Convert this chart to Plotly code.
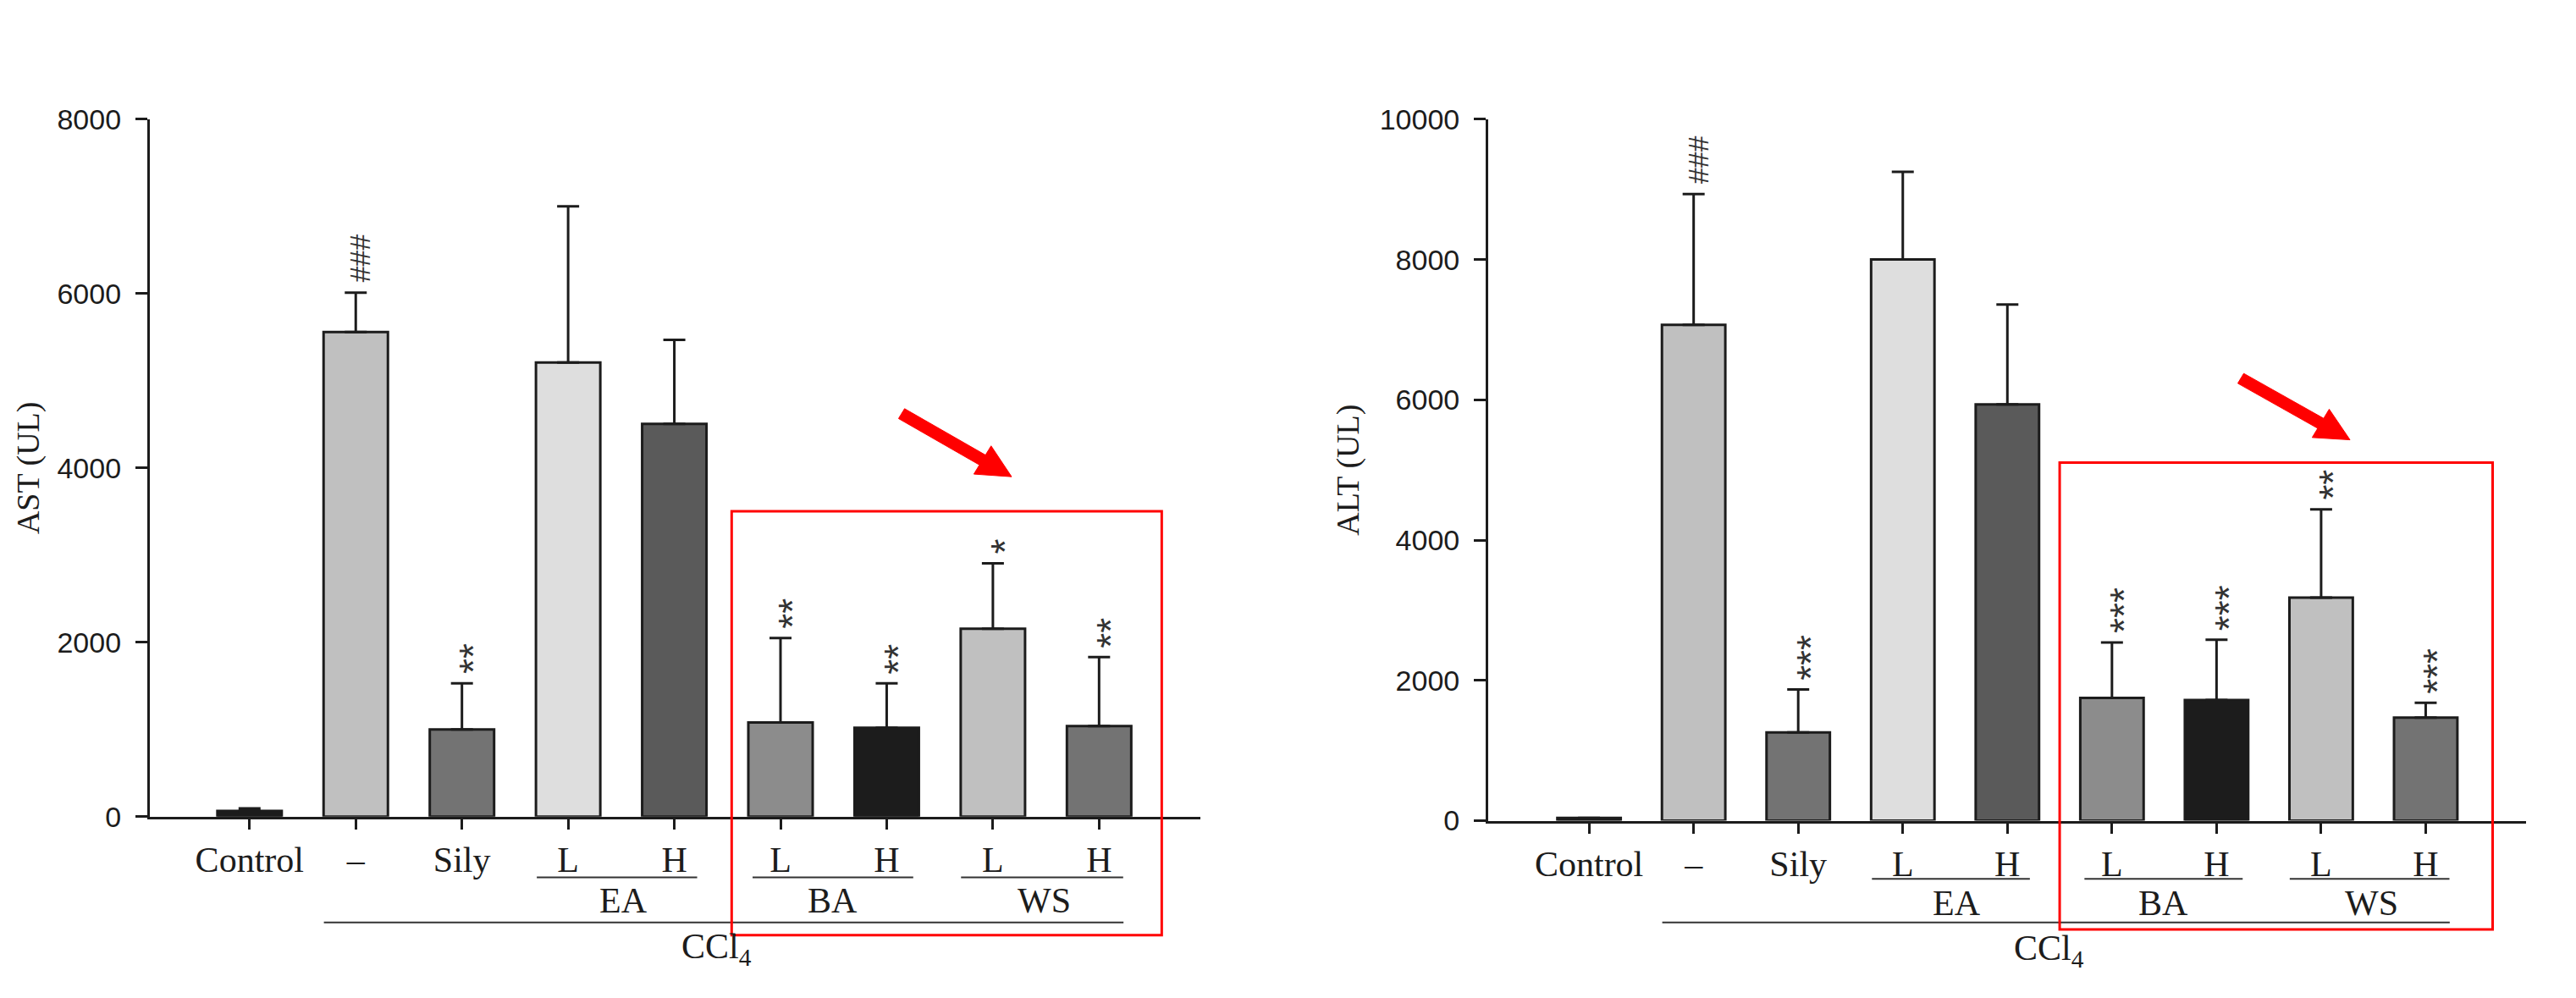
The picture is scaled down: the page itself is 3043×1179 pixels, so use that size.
import math
import plotly.graph_objects as go

# groups along the x axis (same order in both panels)
labels = ["Control", "–", "Sily", "L", "H", "L", "H", "L", "H"]
colors = ["#1c1c1c", "#c0c0c0", "#737373", "#dedede", "#5a5a5a",
          "#8c8c8c", "#1c1c1c", "#c0c0c0", "#737373"]

# AST (UL), mean and upper SD
ast = [65, 5560, 1000, 5210, 4505, 1080, 1020, 2155, 1040]
ast_sd = [30, 450, 530, 1790, 965, 970, 510, 750, 790]
ast_sig = ["", "###", "**", "", "", "**", "**", "*", "**"]

# ALT (UL), right panel
alt = [40, 7070, 1260, 8000, 5935, 1750, 1720, 3180, 1470]
alt_sd = [0, 1865, 610, 1250, 1425, 790, 860, 1260, 210]
alt_sig = ["", "###", "***", "", "", "***", "***", "**", "***"]

# sub-group brackets: name, line start, line end, label position
groups = [("EA", 2.705, 4.215, 3.52), ("BA", 4.737, 6.25, 5.49), ("WS", 6.70, 8.227, 7.48)]

serif = "Liberation Serif"
sans = "Liberation Sans"
ink = "#1c1c1c"
W, H = 3043, 1179
pos = list(range(len(labels)))

fig = go.Figure()

for vals, sd, xa, ya in [(ast, ast_sd, "x", "y"), (alt, alt_sd, "x2", "y2")]:
    fig.add_trace(go.Bar(
        x=pos, y=vals, width=0.606, xaxis=xa, yaxis=ya,
        marker=dict(color=colors, line=dict(color=ink, width=3)),
        error_y=dict(type="data", array=sd, arrayminus=[0] * len(sd),
                     symmetric=False, color=ink, thickness=3, width=13),
        showlegend=False, hoverinfo="skip"))


def axis_pair(n, xdom, ydom, xrange, ymax, title, standoff):
    sfx = "" if n == 1 else str(n)
    fig.update_layout({
        "xaxis" + sfx: dict(domain=xdom, range=xrange, anchor="y" + sfx,
                            tickvals=pos, ticktext=labels, showline=True,
                            linecolor=ink, linewidth=3, ticks="outside",
                            ticklen=12, tickwidth=3, tickcolor=ink,
                            tickfont=dict(family=serif, size=42, color=ink),
                            showgrid=False, zeroline=False, fixedrange=True),
        "yaxis" + sfx: dict(domain=ydom, range=[0, ymax], anchor="x" + sfx,
                            tickvals=list(range(0, ymax + 1, 2000)), tickformat="d",
                            showline=True, linecolor=ink, linewidth=3,
                            ticks="outside", ticklen=14, tickwidth=3, tickcolor=ink,
                            ticklabelstandoff=10,
                            tickfont=dict(family=sans, size=34, color=ink),
                            title=dict(text=title, standoff=standoff,
                                       font=dict(family=serif, size=38, color=ink)),
                            showgrid=False, zeroline=False, fixedrange=True),
    })


axis_pair(1, [0.0555, 0.4634], [0.1781, 0.9002], [-0.94, 8.955], 8000, "AST (UL)", 10)
axis_pair(2, [0.5751, 0.9780], [0.1739, 0.9002], [-0.964, 8.96], 10000, "ALT (UL)", 13)

# significance marks above the error bars
for vals, sd, sig, xa, ya in [(ast, ast_sd, ast_sig, "x", "y"),
                              (alt, alt_sd, alt_sig, "x2", "y2")]:
    for i, s in enumerate(sig):
        if not s:
            continue
        hashes = s.startswith("#")
        fig.add_annotation(x=i, y=vals[i] + sd[i], xref=xa, yref=ya, text=s,
                           textangle=-90, showarrow=False, yanchor="bottom",
                           xanchor="center", yshift=9 if not hashes else 10,
                           xshift=5 if hashes else 14,
                           font=dict(family=sans, size=34 if hashes else 46,
                                     color="#333333"))

# bracket rows under each x axis: (x axis, y axis, sub line, sub text, CCl4 line, CCl4 text)
rows = [("x", "y", -0.087, -0.121, -0.1516, -0.189),
        ("x2", "y2", -0.083, -0.117, -0.145, -0.185)]
for xa, ya, sub_line, sub_text, top_line, top_text in rows:
    for name, x0, x1, xt in groups:
        fig.add_shape(type="line", xref=xa, yref=ya + " domain", x0=x0, x1=x1,
                      y0=sub_line, y1=sub_line, line=dict(color="#333333", width=2))
        fig.add_annotation(x=xt, y=sub_text, xref=xa, yref=ya + " domain", text=name,
                           showarrow=False, xanchor="center", yanchor="middle",
                           font=dict(family=serif, size=42, color=ink))
    fig.add_shape(type="line", xref=xa, yref=ya + " domain", x0=0.70, x1=8.23,
                  y0=top_line, y1=top_line, line=dict(color="#333333", width=2))
    fig.add_annotation(x=4.40, y=top_text, xref=xa, yref=ya + " domain",
                       text="CCl<sub>4</sub>", showarrow=False,
                       xanchor="center", yanchor="middle",
                       font=dict(family=serif, size=42, color=ink))

# red highlight boxes
fig.add_shape(type="rect", xref="x", yref="y domain", x0=4.54, x1=8.59,
              y0=-0.170, y1=0.438, line=dict(color="#ff0000", width=3))
fig.add_shape(type="rect", xref="x2", yref="y2 domain", x0=4.50, x1=8.64,
              y0=-0.155, y1=0.5105, line=dict(color="#ff0000", width=3))


# block arrows, tail/tip given in page pixels
def arrow_path(tail, tip, shaft=7, head=20, head_len=40):
    dx, dy = tip[0] - tail[0], tip[1] - tail[1]
    d = math.hypot(dx, dy)
    ux, uy = dx / d, dy / d
    nx, ny = -uy, ux
    bx, by = tip[0] - head_len * ux, tip[1] - head_len * uy
    pts = [(tail[0] + shaft * nx, tail[1] + shaft * ny),
           (bx + shaft * nx, by + shaft * ny),
           (bx + head * nx, by + head * ny),
           tip,
           (bx - head * nx, by - head * ny),
           (bx - shaft * nx, by - shaft * ny),
           (tail[0] - shaft * nx, tail[1] - shaft * ny)]
    # page pixels -> paper (the page body has an 8px margin)
    conv = [((px - 8) / W, 1 - (py - 8) / H) for px, py in pts]
    return "M " + " L ".join(f"{a:.5f},{b:.5f}" for a, b in conv) + " Z"


for tail, tip in [((1065, 485), (1195, 562)), ((2647, 442), (2776, 517))]:
    fig.add_shape(type="path", xref="paper", yref="paper", path=arrow_path(tail, tip),
                  fillcolor="#ff0000", line=dict(color="#ff0000", width=1))

fig.update_layout(width=W, height=H, margin=dict(l=0, r=0, t=0, b=0),
                  plot_bgcolor="white", paper_bgcolor="white")

fig.write_html("out.html")
